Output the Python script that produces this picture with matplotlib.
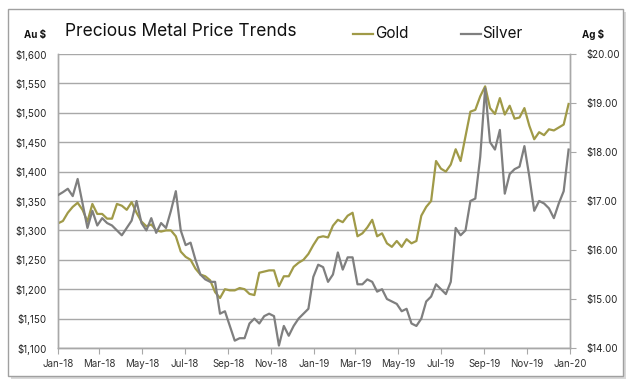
import numpy as np
import pandas as pd
import matplotlib
matplotlib.use("Agg")
import matplotlib.pyplot as plt
import matplotlib.dates as mdates
from matplotlib.patches import Rectangle

plt.rcParams['font.family'] = ['Inter', 'DejaVu Sans']

# weekly readings, Jan 2018 - Dec 2019
gold = [1312, 1316, 1330, 1340, 1347, 1335, 1315, 1345, 1328, 1328,
        1320, 1320, 1345, 1342, 1335, 1348, 1330, 1315, 1307, 1310,
        1300, 1298, 1300, 1300, 1290, 1264, 1255, 1250, 1235, 1225,
        1222, 1215, 1195, 1185, 1200, 1198, 1198, 1202, 1200, 1192,
        1190, 1228, 1230, 1232, 1232, 1205, 1222, 1222, 1238, 1245,
        1250, 1260, 1275, 1288, 1290, 1288, 1308, 1318, 1314, 1325,
        1330, 1290, 1295, 1305, 1318, 1290, 1295, 1278, 1272, 1282,
        1272, 1285, 1278, 1282, 1325, 1340, 1350, 1418, 1405, 1400,
        1412, 1438, 1418, 1460, 1502, 1505, 1528, 1545, 1508, 1498,
        1525, 1497, 1512, 1490, 1492, 1508, 1478, 1455, 1467, 1462,
        1472, 1470, 1475, 1480, 1515]

silver = [17.12, 17.18, 17.25, 17.10, 17.45, 16.95, 16.45, 16.80, 16.50, 16.65,
          16.55, 16.50, 16.40, 16.30, 16.45, 16.60, 17.00, 16.55, 16.40, 16.65,
          16.35, 16.55, 16.45, 16.80, 17.20, 16.40, 16.10, 16.15, 15.80, 15.50,
          15.40, 15.35, 15.35, 14.70, 14.75, 14.45, 14.15, 14.20, 14.20, 14.50,
          14.60, 14.50, 14.65, 14.70, 14.65, 14.05, 14.45, 14.25, 14.45, 14.60,
          14.70, 14.80, 15.45, 15.70, 15.65, 15.35, 15.50, 15.95, 15.60, 15.85,
          15.85, 15.30, 15.30, 15.40, 15.35, 15.15, 15.20, 15.00, 14.95, 14.90,
          14.75, 14.80, 14.50, 14.45, 14.60, 14.95, 15.05, 15.30, 15.20, 15.10,
          15.35, 16.45, 16.30, 16.40, 17.00, 17.05, 17.90, 19.30, 18.20, 18.05,
          18.45, 17.15, 17.55, 17.65, 17.70, 18.12, 17.50, 16.80, 17.00, 16.95,
          16.85, 16.65, 16.95, 17.20, 18.05]

dates = pd.date_range('2018-01-01', periods=len(gold), freq='7D')

gold_ticks = list(range(1100, 1601, 50))
silver_ticks = [14, 15, 16, 17, 18, 19, 20]
month_ticks = pd.date_range('2018-01-01', '2020-01-01', freq='2MS')

gold_color = '#a09a48'
silver_color = '#7f7f7f'
grid_color = '#a8a8a8'

fig = plt.figure(figsize=(6.36, 3.81), dpi=100)
ax = fig.add_axes([58 / 636, 1 - 348 / 381, 512 / 636, 294 / 381])
ax2 = ax.twinx()

ax.plot(dates, gold, color=gold_color, lw=1.6, zorder=3)
ax2.plot(dates, silver, color=silver_color, lw=1.6, zorder=3)

ax.set_xlim(pd.Timestamp('2018-01-01'), pd.Timestamp('2020-01-01'))
ax.set_ylim(1100, 1600)
ax2.set_ylim(14, 20)

ax.set_yticks(gold_ticks)
ax.set_yticklabels(['${:,}'.format(v) for v in gold_ticks])
ax2.set_yticks(silver_ticks)
ax2.set_yticklabels(['${:.2f}'.format(v) for v in silver_ticks])
ax.set_xticks(month_ticks)
ax.xaxis.set_major_formatter(mdates.DateFormatter('%b-%y'))

ax.grid(axis='y', color=grid_color, lw=1.0)
ax.set_axisbelow(True)
ax2.set_zorder(ax.get_zorder() + 1)
ax2.patch.set_visible(False)

for a in (ax, ax2):
    for s in a.spines.values():
        s.set_color(grid_color)
        s.set_linewidth(1.0)
    a.spines['top'].set_visible(False)

ax.tick_params(axis='y', length=0, labelsize=7, pad=8, colors='#222222')
ax.tick_params(axis='x', length=4, color=grid_color, labelsize=7, pad=4, colors='#222222')
ax.tick_params(axis='x', colors=grid_color, labelcolor='#333333')
ax2.tick_params(axis='y', length=4, color=grid_color, labelsize=7, pad=8, labelcolor='#222222')

fig.text(65 / 636, 1 - 31 / 381, 'Precious Metal Price Trends', fontsize=12.5,
         va='center', ha='left', color='#111111')
fig.text(35 / 636, 1 - 35 / 381, 'Au $', fontsize=7, fontweight='bold',
         va='center', ha='center', color='#111111')
fig.text(593 / 636, 1 - 34 / 381, 'Ag $', fontsize=7, fontweight='bold',
         va='center', ha='center', color='#111111')

# legend drawn as simple line + text pairs
fig.add_artist(plt.Line2D([353 / 636, 373 / 636], [1 - 34 / 381] * 2,
                          color=gold_color, lw=1.6))
fig.text(375 / 636, 1 - 34 / 381, 'Gold', fontsize=11, va='center', ha='left', color='#111111')
fig.add_artist(plt.Line2D([461 / 636, 481 / 636], [1 - 34 / 381] * 2,
                          color=silver_color, lw=1.6))
fig.text(482 / 636, 1 - 34 / 381, 'Silver', fontsize=11, va='center', ha='left', color='#111111')

# outer frame with a light shadow
fig.add_artist(Rectangle((11 / 636, 1 - 379 / 381), 615 / 636, 367 / 381,
                         transform=fig.transFigure, facecolor='#d9d9d9',
                         edgecolor='none', zorder=-2))
fig.add_artist(Rectangle((8 / 636, 1 - 376 / 381), 615 / 636, 367 / 381,
                         transform=fig.transFigure, facecolor='white',
                         edgecolor='#a0a0a0', lw=1.0, zorder=-1))

fig.savefig('out.png', dpi=100)
